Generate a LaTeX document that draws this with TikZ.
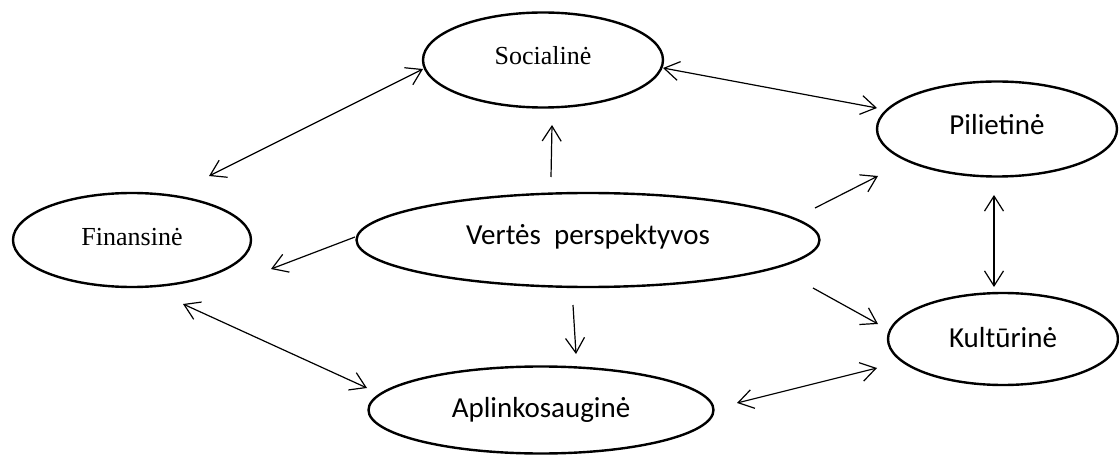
\documentclass[tikz,border=0pt]{standalone}
\usepackage{fontspec}
\setmainfont{Liberation Serif}
\newfontfamily\calibri{Carlito}
\usetikzlibrary{shapes.geometric,arrows.meta}
\tikzset{
    sphere/.style={ellipse, draw, line width=2.4pt, inner sep=0pt},
    link/.style={line width=1.2pt, {Straight Barb[length=15pt,width=19pt]}-{Straight Barb[length=15pt,width=19pt]}},
    oneway/.style={line width=1.2pt, -{Straight Barb[length=15pt,width=19pt]}}
}
\begin{document}
\begin{tikzpicture}[x=1pt, y=-1pt]
    \useasboundingbox (0,0) rectangle (1119,457);
    \node[sphere, minimum width=240pt, minimum height=95pt, text depth=10pt, font=\fontsize{26}{30}\selectfont] (soc) at (543,60) {Socialinė};
    \node[sphere, minimum width=238pt, minimum height=94pt, text depth=6pt, font=\fontsize{26}{30}\selectfont] (fin) at (132,240) {Finansinė};
    \node[sphere, minimum width=463pt, minimum height=94pt, text depth=12pt, font=\calibri\fontsize{29}{33}\selectfont] (vert) at (588,240) {Vertės~ perspektyvos};
    \node[sphere, minimum width=240pt, minimum height=95pt, text depth=9pt, font=\calibri\fontsize{29}{33}\selectfont] (pil) at (997,129) {Pilietinė};
    \node[sphere, minimum width=230pt, minimum height=92pt, text depth=4pt, font=\calibri\fontsize{29}{33}\selectfont] (kul) at (1003,339) {Kultūrinė};
    \node[sphere, minimum width=345pt, minimum height=87pt, font=\calibri\fontsize{29}{33}\selectfont] (apl) at (541,410) {Aplinkosauginė};
    % free ends of the connectors
    \coordinate (socW) at (423,69);   \coordinate (finNE) at (209,176);
    \coordinate (socE) at (663,68);   \coordinate (pilW) at (877,108);
    \coordinate (vertN) at (551,177); \coordinate (socS) at (552,125);
    \coordinate (vertS) at (573,305); \coordinate (aplN) at (576,354);
    \coordinate (vertNE) at (815,208); \coordinate (pilSW) at (878,176);
    \coordinate (vertSE) at (813,288); \coordinate (kulW) at (878,324);
    \coordinate (vertW) at (355,237); \coordinate (finE) at (271,269);
    \coordinate (finSE) at (183,304); \coordinate (aplNW) at (367,388);
    \coordinate (aplE) at (737,403); \coordinate (kulSW) at (877,368);
    \coordinate (pilS) at (994,195); \coordinate (kulN) at (994,287);
    \draw[link] (socW) -- (finNE);
    \draw[link] (socE) -- (pilW);
    \draw[link] (finSE) -- (aplNW);
    \draw[link] (aplE) -- (kulSW);
    \draw[link] (pilS) -- (kulN);
    \draw[oneway] (vertN) -- (socS);
    \draw[oneway] (vertS) -- (aplN);
    \draw[oneway] (vertNE) -- (pilSW);
    \draw[oneway] (vertSE) -- (kulW);
    \draw[oneway] (vertW) -- (finE);
\end{tikzpicture}
\end{document}
